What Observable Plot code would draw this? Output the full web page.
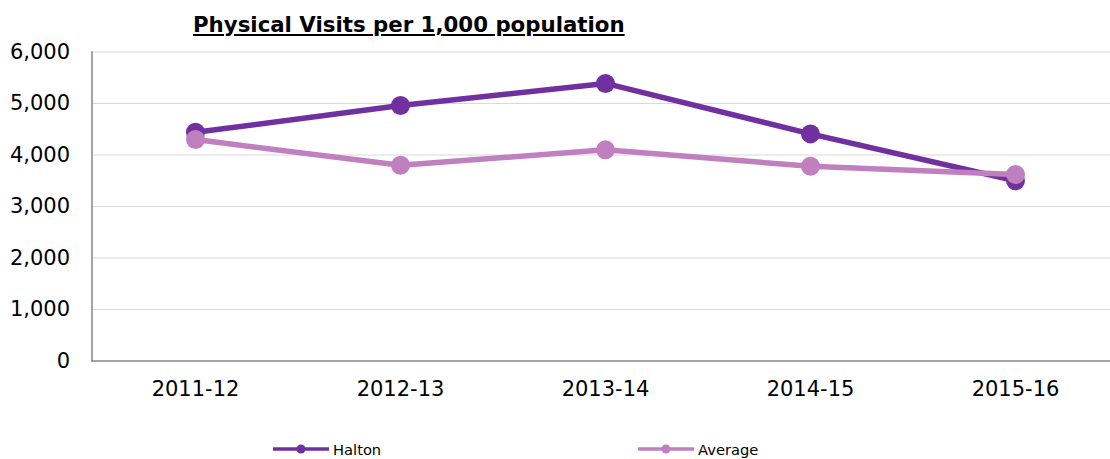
<!DOCTYPE html>
<html>
<head>
<meta charset="utf-8">
<script src="https://cdn.jsdelivr.net/npm/d3@7"></script>
<script src="https://cdn.jsdelivr.net/npm/@observablehq/plot@0.6"></script>
<style>
  html, body { margin: 0; padding: 0; background: #fff; }
  body { width: 1110px; height: 459px; position: relative; overflow: hidden; font-family: "DejaVu Sans", Verdana, sans-serif; }
  #title { position: absolute; z-index: 2; left: 193px; top: 14px; font-size: 21.3px; line-height: 21px; font-weight: bold; color: #000; text-decoration: underline; text-decoration-thickness: 2px; text-underline-offset: 2px; white-space: nowrap; }
  #chart { position: absolute; z-index: 1; left: 0; top: 0; }
  #chart svg { overflow: hidden; }
  .legend-item { position: absolute; z-index: 2; top: 438px; display: flex; align-items: center; font-size: 14.7px; color: #000; white-space: nowrap; }
  .legend-item svg { display: block; margin-right: 4px; }
</style>
</head>
<body>
<div id="chart"></div>
<div id="title">Physical Visits per 1,000 population</div>
<div id="legend"></div>
<script>
const years = ["2011-12", "2012-13", "2013-14", "2014-15", "2015-16"];
const halton = [4440, 4960, 5390, 4410, 3500];
const average = [4300, 3800, 4100, 3780, 3620];
const yTicks = [0, 1000, 2000, 3000, 4000, 5000, 6000];
const seriesNames = ["Halton", "Average"];
const seriesColors = ["#7030a0", "#c07fbf"];

const rows = [];
years.forEach((y, i) => rows.push({year: y, value: halton[i], series: seriesNames[0]}));
years.forEach((y, i) => rows.push({year: y, value: average[i], series: seriesNames[1]}));

const chart = Plot.plot({
  width: 1110,
  height: 420,
  marginTop: 51.5,
  marginBottom: 59.5,
  marginLeft: 91.5,
  marginRight: -8,
  style: {fontFamily: "DejaVu Sans, Verdana, sans-serif", fontSize: "21px", color: "#000", background: "transparent"},
  x: {type: "point", domain: years, padding: 0.5, label: null},
  y: {domain: [0, 6000], label: null},
  color: {domain: seriesNames, range: seriesColors},
  marks: [
    Plot.ruleY(yTicks.filter(d => d > 0), {stroke: "#d9d9d9", strokeWidth: 1}),
    Plot.axisY({ticks: yTicks, tickFormat: d3.format(","), tickSize: 0, tickPadding: 22, fontSize: 21, label: null}),
    Plot.axisX({tickSize: 0, tickPadding: 20, fontSize: 21, label: null}),
    Plot.frame({anchor: "left", stroke: "#868686", strokeWidth: 1.5}),
    Plot.ruleY([0], {stroke: "#868686", strokeWidth: 1.5}),
    Plot.line(rows.filter(d => d.series === "Halton"), {x: "year", y: "value", stroke: "series", strokeWidth: 5.5}),
    Plot.dot(rows.filter(d => d.series === "Halton"), {x: "year", y: "value", fill: "series", r: 9.5}),
    Plot.line(rows.filter(d => d.series === "Average"), {x: "year", y: "value", stroke: "series", strokeWidth: 5.5}),
    Plot.dot(rows.filter(d => d.series === "Average"), {x: "year", y: "value", fill: "series", r: 9.5})
  ]
});
document.getElementById("chart").appendChild(chart);

const legendLefts = [273, 638];
const legend = document.getElementById("legend");
seriesNames.forEach((name, i) => {
  const item = document.createElement("div");
  item.className = "legend-item";
  item.style.left = legendLefts[i] + "px";
  item.innerHTML = `<svg width="56" height="22"><line x1="0" x2="56" y1="11" y2="11" stroke="${seriesColors[i]}" stroke-width="3.5" stroke-linecap="round"/><circle cx="28" cy="11" r="4.5" fill="${seriesColors[i]}"/></svg><span>${name}</span>`;
  legend.appendChild(item);
});
</script>
</body>
</html>
